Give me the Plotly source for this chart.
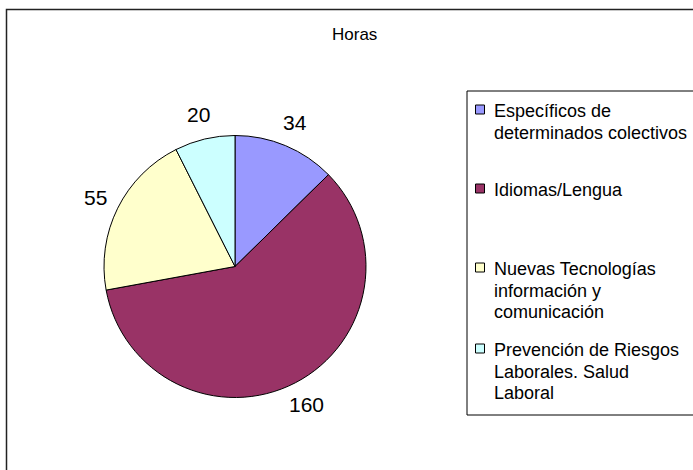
import math
import plotly.graph_objects as go

# ---- data ----
categories = [
    "Específicos de<br>determinados colectivos",
    "Idiomas/Lengua",
    "Nuevas Tecnologías<br>información y<br>comunicación",
    "Prevención de Riesgos<br>Laborales. Salud<br>Laboral",
]
hours = [34, 160, 55, 20]
title_text = "Horas"

# ---- styles ----
colors = ["#9999FF", "#993366", "#FFFFCC", "#CCFFFF"]
W, H = 693, 470
FONT = "Liberation Sans, Arial, sans-serif"
cx, cy, r = 235, 266.5, 131


def X(px):
    return px / W


def Y(py):
    return 1 - py / H


fig = go.Figure(
    go.Pie(
        labels=[c.replace("<br>", " ") for c in categories],
        values=hours,
        sort=False,
        direction="clockwise",
        rotation=0,
        marker=dict(colors=colors, line=dict(color="#000000", width=1)),
        textinfo="none",
        hoverinfo="label+value",
        showlegend=False,
        domain=dict(x=[X(cx - r), X(cx + r)], y=[Y(cy + r), Y(cy - r)]),
    )
)

annotations = []
shapes = []

# data labels placed around the pie at each slice's mid-angle
total = sum(hours)
acc = 0
for v in hours:
    mid = (acc + v / 2) / total * 2 * math.pi
    acc += v
    d = r * 1.19
    lx = cx + d * math.sin(mid)
    ly = cy - d * math.cos(mid)
    annotations.append(
        dict(x=X(lx), y=Y(ly), xref="paper", yref="paper", text=str(v),
             showarrow=False, xanchor="center", yanchor="middle",
             font=dict(family=FONT, size=21, color="#000000"))
    )

# title
annotations.append(
    dict(x=X(354), y=Y(34), xref="paper", yref="paper", text=title_text,
         showarrow=False, xanchor="center", yanchor="middle",
         font=dict(family=FONT, size=17, color="#000000"))
)

# outer chart border (extends past right/bottom edges)
shapes.append(dict(type="rect", xref="paper", yref="paper",
                   x0=X(6.5), x1=X(720), y0=Y(500), y1=Y(9.5),
                   line=dict(color="#222222", width=1.5), fillcolor="rgba(0,0,0,0)"))

# legend box
shapes.append(dict(type="rect", xref="paper", yref="paper",
                   x0=X(467), x1=X(720), y0=Y(415), y1=Y(91),
                   line=dict(color="#000000", width=1), fillcolor="rgba(0,0,0,0)"))

item_first_line = [111, 190, 269, 350]
line_gap = 21.7
for i, lab in enumerate(categories):
    y0 = item_first_line[i]
    shapes.append(dict(type="rect", xref="paper", yref="paper",
                       x0=X(475.5), x1=X(484.5), y0=Y(y0 + 3), y1=Y(y0 - 6),
                       line=dict(color="#000000", width=1), fillcolor=colors[i]))
    for j, line in enumerate(lab.split("<br>")):
        annotations.append(
            dict(x=X(492), y=Y(y0 + j * line_gap), xref="paper", yref="paper",
                 text=line, showarrow=False, xanchor="left", yanchor="middle",
                 font=dict(family=FONT, size=18, color="#000000"))
        )

fig.update_layout(
    width=W, height=H,
    margin=dict(l=0, r=0, t=0, b=0),
    paper_bgcolor="#FFFFFF",
    plot_bgcolor="#FFFFFF",
    annotations=annotations,
    shapes=shapes,
)

fig.write_html(
    "out.html",
    config={"displayModeBar": False},
    post_script="document.body.style.margin='0';document.body.style.overflow='hidden';",
)
